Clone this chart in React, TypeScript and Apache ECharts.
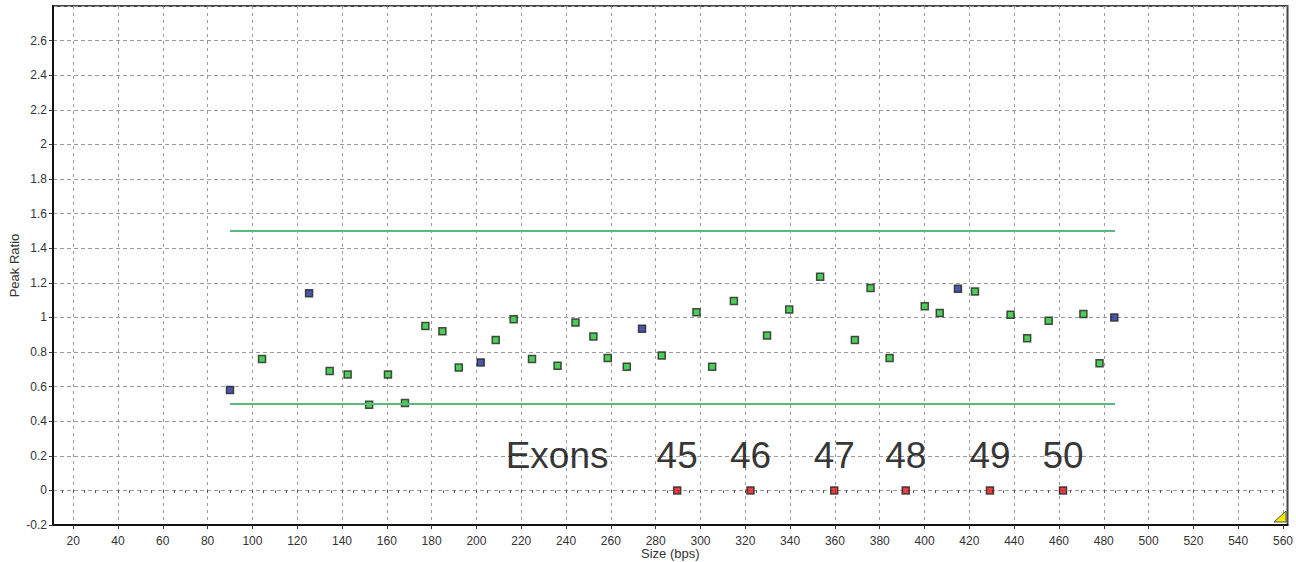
import React, { useEffect, useRef } from "react";
import * as echarts from "echarts";

// ---- axes ----
const xMin = 11;
const xMax = 562;
const xTickLabels = [20, 40, 60, 80, 100, 120, 140, 160, 180, 200, 220, 240, 260, 280, 300, 320, 340, 360, 380, 400, 420, 440, 460, 480, 500, 520, 540, 560];
const xMinorStep = 5;
const yMin = -0.2;
const yMax = 2.8;
const yStep = 0.2;

// ---- probes (green) ----
const greenX = [104.3, 134.5, 142.5, 152.1, 160.5, 168.1, 177.2, 184.8, 192.1, 208.6, 216.6, 224.8, 236.2, 244.2, 252.2, 258.6, 267.1, 282.7, 298.2, 305.2, 314.9, 329.7, 339.6, 353.4, 368.9, 375.9, 384.4, 400.1, 406.8, 422.5, 438.4, 445.8, 455.4, 470.9, 478.1];
const greenY = [0.76, 0.69, 0.67, 0.495, 0.67, 0.505, 0.95, 0.92, 0.71, 0.87, 0.99, 0.76, 0.72, 0.97, 0.89, 0.765, 0.715, 0.78, 1.03, 0.715, 1.095, 0.895, 1.045, 1.235, 0.87, 1.17, 0.765, 1.065, 1.025, 1.15, 1.015, 0.88, 0.98, 1.02, 0.735];

// ---- reference probes (blue) ----
const blueX = [90, 125.3, 201.9, 273.9, 414.9, 484.7];
const blueY = [0.58, 1.14, 0.74, 0.935, 1.165, 1.0];

// ---- exon markers (red) ----
const exonNames = ["45", "46", "47", "48", "49", "50"];
const exonX = [289.6, 322.3, 359.7, 391.6, 429.2, 461.8];
const exonY = [0, 0, 0, 0, 0, 0];
const exonLabelY = 0.2;
const exonsTitle = "Exons";
const exonsTitleX = 236;

// ---- thresholds ----
const upperLimit = 1.5;
const lowerLimit = 0.5;
const limitFrom = 90;
const limitTo = 485;

const FONT = "'Liberation Sans', Arial, sans-serif";

export default function App() {
  const ref = useRef<HTMLDivElement>(null);

  useEffect(() => {
    if (!ref.current) return;
    const chart = echarts.init(ref.current, undefined, { renderer: "svg" });

    const minorTicks: number[] = [];
    for (let v = xTickLabels[0] - xMinorStep; v <= xMax; v += xMinorStep) {
      if (v >= xMin) minorTicks.push(v);
    }

    const pointStyle = (fill: string) => ({
      color: fill,
      borderColor: "#222",
      borderWidth: 1.5,
    });

    const labelData: any[] = [[exonsTitleX, exonLabelY, exonsTitle]].concat(
      exonX.map((x, i) => [x, exonLabelY, exonNames[i]])
    );

    chart.setOption({
      animation: false,
      backgroundColor: "#ffffff",
      textStyle: { fontFamily: FONT },
      grid: {
        left: 53,
        right: 8.5,
        top: 6,
        bottom: 37,
        containLabel: false,
        outerBoundsMode: "none",
        show: true,
        borderColor: "#444",
        borderWidth: 2,
        backgroundColor: "transparent",
      },
      xAxis: [
        {
          type: "value",
          min: xMin,
          max: xMax,
          position: "bottom",
          name: "Size (bps)",
          nameLocation: "middle",
          nameGap: 22,
          nameMoveOverlap: false,
          nameTextStyle: { fontSize: 13, color: "#333", fontFamily: FONT },
          axisLine: { show: true, onZero: false, lineStyle: { color: "#111", width: 2 } },
          axisTick: { show: true, length: 4, customValues: xTickLabels, lineStyle: { color: "#333" } },
          axisLabel: {
            customValues: xTickLabels,
            fontSize: 12,
            color: "#333",
            margin: 10,
            fontFamily: FONT,
          },
          splitLine: { show: true, lineStyle: { color: "#9b9b9b", type: [3, 4], width: 1 } },
        },
        {
          type: "value",
          min: xMin,
          max: xMax,
          position: "bottom",
          offset: 0,
          axisLine: { show: false },
          axisTick: { show: true, length: 2.5, customValues: minorTicks, lineStyle: { color: "#444" } },
          axisLabel: { show: false },
          splitLine: { show: false },
        },
      ],
      yAxis: {
        type: "value",
        min: yMin,
        max: yMax,
        interval: yStep,
        name: "Peak Ratio",
        nameLocation: "middle",
        nameGap: 32,
        nameMoveOverlap: false,
        nameTextStyle: { fontSize: 13, color: "#333", fontFamily: FONT },
        axisLine: { show: true, onZero: false, lineStyle: { color: "#111", width: 2 } },
        axisTick: { show: true, length: 4, lineStyle: { color: "#333" } },
        axisLabel: {
          fontSize: 12,
          color: "#333",
          margin: 6,
          showMaxLabel: false,
          fontFamily: FONT,
        },
        splitLine: { show: true, lineStyle: { color: "#9b9b9b", type: [4, 3], width: 1 } },
      },
      series: [
        {
          name: "upper",
          type: "line",
          xAxisIndex: 0,
          data: [[limitFrom, upperLimit], [limitTo, upperLimit]],
          symbol: "none",
          lineStyle: { color: "#5cb87f", width: 2 },
          silent: true,
        },
        {
          name: "lower",
          type: "line",
          xAxisIndex: 0,
          data: [[limitFrom, lowerLimit], [limitTo, lowerLimit]],
          symbol: "none",
          lineStyle: { color: "#5cb87f", width: 2 },
          silent: true,
        },
        {
          name: "probes",
          type: "scatter",
          xAxisIndex: 0,
          symbol: "rect",
          symbolSize: 7,
          data: greenX.map((x, i) => [x, greenY[i]]),
          itemStyle: pointStyle("#22c030"),
        },
        {
          name: "reference",
          type: "scatter",
          xAxisIndex: 0,
          symbol: "rect",
          symbolSize: 7,
          data: blueX.map((x, i) => [x, blueY[i]]),
          itemStyle: pointStyle("#1f2c94"),
        },
        {
          name: "exons",
          type: "scatter",
          xAxisIndex: 0,
          symbol: "rect",
          symbolSize: 7,
          data: exonX.map((x, i) => [x, exonY[i]]),
          itemStyle: pointStyle("#e01010"),
        },
        {
          name: "exonLabels",
          type: "scatter",
          xAxisIndex: 0,
          symbolSize: 0,
          silent: true,
          data: labelData,
          label: {
            show: true,
            position: "inside",
            formatter: (p: any) => p.data[2],
            fontSize: 37,
            color: "#000",
            fontFamily: FONT,
          },
          labelLayout: { hideOverlap: false },
        },
      ],
      graphic: [
        {
          type: "polygon",
          shape: { points: [[1274, 522], [1286, 522], [1286, 511]] },
          style: { fill: "#f2ea00", stroke: "#555", lineWidth: 1 },
          z: 100,
        },
      ],
    });

    return () => chart.dispose();
  }, []);

  return (
    <div
      ref={ref}
      style={{ position: "absolute", left: 0, top: 0, width: 1296, height: 562 }}
    />
  );
}
